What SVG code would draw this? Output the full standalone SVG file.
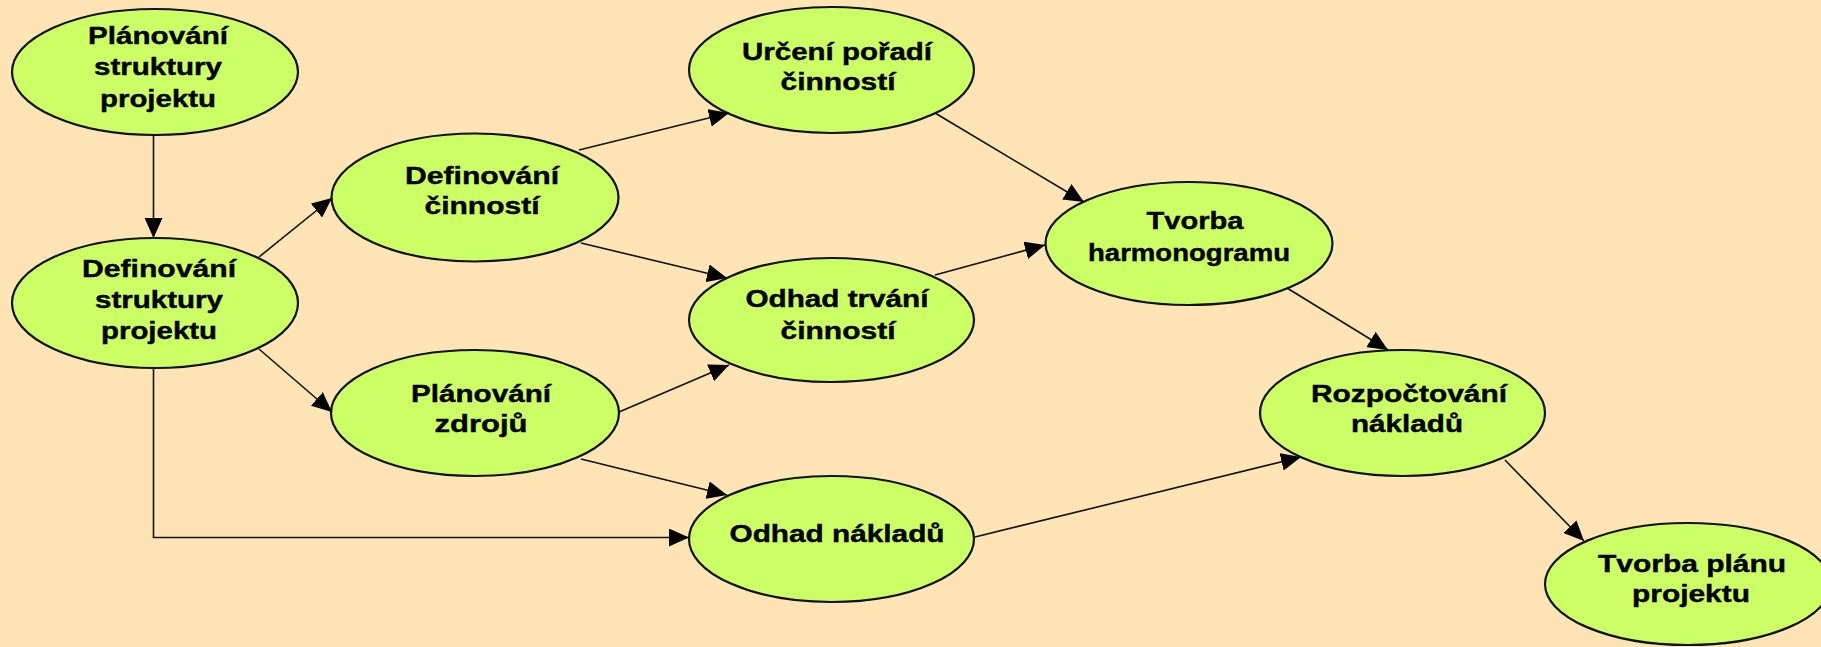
<svg xmlns="http://www.w3.org/2000/svg" width="1821" height="647" viewBox="0 0 1821 647">
  <style>
    .node ellipse { fill: #CCFF66; stroke: #111; stroke-width: 2.2; }
    .node text { font-family: "Liberation Sans", Arial, sans-serif; font-weight: bold; font-size: 24px; fill: #000; stroke: #000; stroke-width: 0.4; text-anchor: middle; }
    .edge { fill: none; stroke: #111; stroke-width: 1.6; marker-end: url(#arrow); }
  </style>
  <defs>
    <marker id="arrow" viewBox="0 0 20 18" refX="20" refY="9" markerWidth="20" markerHeight="18" markerUnits="userSpaceOnUse" orient="auto">
      <path d="M0,0 L20,9 L0,18 Z" fill="#000"/>
    </marker>
  </defs>

  <rect width="1821" height="647" fill="#FFE4B5"/>

  <g id="planovani-struktury">
    <g class="node">
      <ellipse cx="155" cy="72" rx="143" ry="63"/>
      <text x="158" y="44" textLength="140" lengthAdjust="spacingAndGlyphs">Plánování</text>
      <text x="158" y="75" textLength="128" lengthAdjust="spacingAndGlyphs">struktury</text>
      <text x="158" y="107" textLength="116" lengthAdjust="spacingAndGlyphs">projektu</text>
    </g>
  </g>

  <g id="definovani-struktury">
    <g class="node">
      <ellipse cx="155" cy="303" rx="143" ry="65"/>
      <text x="159" y="277" textLength="154" lengthAdjust="spacingAndGlyphs">Definování</text>
      <text x="159" y="308" textLength="128" lengthAdjust="spacingAndGlyphs">struktury</text>
      <text x="159" y="339" textLength="116" lengthAdjust="spacingAndGlyphs">projektu</text>
    </g>
  </g>

  <g id="definovani-cinnosti">
    <g class="node">
      <ellipse cx="475" cy="197.5" rx="143.5" ry="64"/>
      <text x="482" y="184" textLength="154" lengthAdjust="spacingAndGlyphs">Definování</text>
      <text x="482" y="214" textLength="115" lengthAdjust="spacingAndGlyphs">činností</text>
    </g>
  </g>

  <g id="planovani-zdroju">
    <g class="node">
      <ellipse cx="475" cy="413" rx="144" ry="63"/>
      <text x="481" y="402" textLength="140" lengthAdjust="spacingAndGlyphs">Plánování</text>
      <text x="481" y="432" textLength="93" lengthAdjust="spacingAndGlyphs">zdrojů</text>
    </g>
  </g>

  <g id="urceni-poradi">
    <g class="node">
      <ellipse cx="831.5" cy="70" rx="142.5" ry="63"/>
      <text x="837" y="60" textLength="190" lengthAdjust="spacingAndGlyphs">Určení pořadí</text>
      <text x="838" y="90" textLength="115" lengthAdjust="spacingAndGlyphs">činností</text>
    </g>
  </g>

  <g id="odhad-trvani">
    <g class="node">
      <ellipse cx="831.5" cy="320" rx="142.5" ry="62"/>
      <text x="837" y="307" textLength="183" lengthAdjust="spacingAndGlyphs">Odhad trvání</text>
      <text x="838" y="339" textLength="115" lengthAdjust="spacingAndGlyphs">činností</text>
    </g>
  </g>

  <g id="odhad-nakladu">
    <g class="node">
      <ellipse cx="831.5" cy="539" rx="142.5" ry="63"/>
      <text x="837" y="542" textLength="215" lengthAdjust="spacingAndGlyphs">Odhad nákladů</text>
    </g>
  </g>

  <g id="tvorba-harmonogramu">
    <g class="node">
      <ellipse cx="1189" cy="243.5" rx="143.5" ry="61.5"/>
      <text x="1195" y="229" textLength="97" lengthAdjust="spacingAndGlyphs">Tvorba</text>
      <text x="1189" y="261" textLength="202" lengthAdjust="spacingAndGlyphs">harmonogramu</text>
    </g>
  </g>

  <g id="rozpoctovani-nakladu">
    <g class="node">
      <ellipse cx="1402.5" cy="413" rx="142.5" ry="63"/>
      <text x="1409" y="402" textLength="196" lengthAdjust="spacingAndGlyphs">Rozpočtování</text>
      <text x="1407" y="432" textLength="112" lengthAdjust="spacingAndGlyphs">nákladů</text>
    </g>
  </g>

  <g id="tvorba-planu">
    <g class="node">
      <ellipse cx="1688" cy="584" rx="143" ry="61"/>
      <text x="1692" y="572" textLength="188" lengthAdjust="spacingAndGlyphs">Tvorba plánu</text>
      <text x="1691" y="602" textLength="118" lengthAdjust="spacingAndGlyphs">projektu</text>
    </g>
  </g>

  <g id="connectors">
    <path class="edge" d="M153.5,135 L153.5,238"/>
    <path class="edge" d="M259,257 L332,198"/>
    <path class="edge" d="M259,349 L332,412"/>
    <path class="edge" d="M153.5,368 L153.5,537.5 L689,537.5"/>
    <path class="edge" d="M579,150 L729,113"/>
    <path class="edge" d="M581,243 L727,278"/>
    <path class="edge" d="M935,113 L1084,202"/>
    <path class="edge" d="M935,275 L1045,245"/>
    <path class="edge" d="M619,412 L729,365"/>
    <path class="edge" d="M581,459 L727,495"/>
    <path class="edge" d="M975,537 L1301,457"/>
    <path class="edge" d="M1287,288 L1388,350"/>
    <path class="edge" d="M1505,460 L1584,541"/>
  </g>
</svg>
